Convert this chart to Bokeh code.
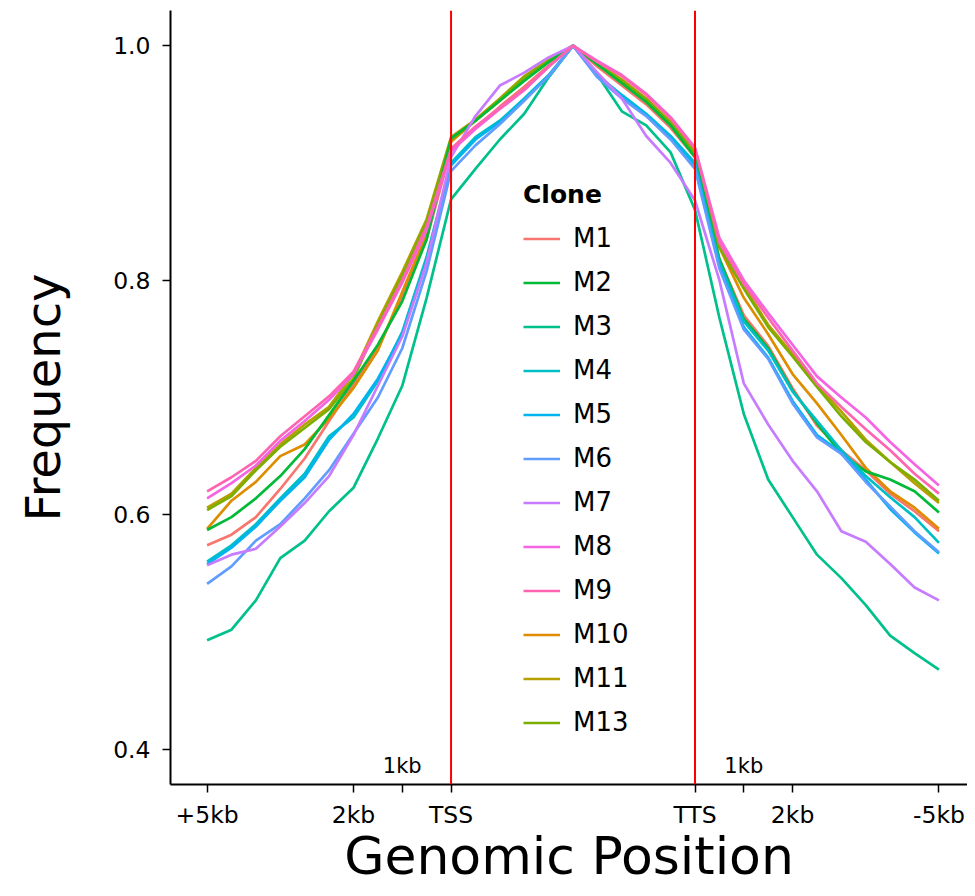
from bokeh.plotting import figure
from bokeh.models import Span, Legend, LegendItem, FixedTicker, PrintfTickFormatter
from bokeh.core.properties import value
from bokeh.embed import file_html
from bokeh.resources import INLINE

# bin positions: 0..5 = +5kb..TSS, 5..10 = gene body (scaled), 10..15 = TTS..-5kb
pos = [0.0, 0.5, 1.0, 1.5, 2.0, 2.5, 3.0, 3.5, 4.0, 4.5, 5.0,
       5.5, 6.0, 6.5, 7.0, 7.5, 8.0, 8.5, 9.0, 9.5, 10.0,
       10.5, 11.0, 11.5, 12.0, 12.5, 13.0, 13.5, 14.0, 14.5, 15.0]

M1 = [0.574, 0.583, 0.598, 0.622, 0.648, 0.680, 0.711, 0.742, 0.786, 0.835, 0.912,
      0.930, 0.948, 0.965, 0.983, 1.000, 0.982, 0.966, 0.950, 0.930, 0.905,
      0.818, 0.770, 0.744, 0.708, 0.676, 0.655, 0.638, 0.618, 0.603, 0.586]
M2 = [0.587, 0.598, 0.614, 0.633, 0.656, 0.685, 0.714, 0.745, 0.782, 0.835, 0.921,
      0.936, 0.953, 0.970, 0.986, 1.000, 0.984, 0.968, 0.952, 0.932, 0.905,
      0.818, 0.767, 0.742, 0.706, 0.678, 0.652, 0.637, 0.630, 0.620, 0.602]
M3 = [0.493, 0.502, 0.527, 0.563, 0.578, 0.603, 0.623, 0.665, 0.710, 0.785, 0.869,
      0.895, 0.920, 0.942, 0.973, 1.000, 0.975, 0.944, 0.932, 0.909, 0.860,
      0.768, 0.686, 0.630, 0.598, 0.566, 0.546, 0.523, 0.497, 0.482, 0.468]
M4 = [0.560, 0.574, 0.592, 0.614, 0.635, 0.667, 0.683, 0.714, 0.756, 0.820, 0.900,
      0.922, 0.936, 0.955, 0.975, 1.000, 0.975, 0.958, 0.942, 0.923, 0.900,
      0.815, 0.765, 0.740, 0.705, 0.680, 0.655, 0.633, 0.615, 0.598, 0.576]
M5 = [0.558, 0.572, 0.590, 0.612, 0.632, 0.664, 0.686, 0.716, 0.754, 0.816, 0.898,
      0.920, 0.935, 0.954, 0.974, 1.000, 0.974, 0.957, 0.941, 0.922, 0.898,
      0.812, 0.760, 0.734, 0.697, 0.668, 0.653, 0.630, 0.605, 0.585, 0.567]
M6 = [0.541, 0.556, 0.578, 0.592, 0.614, 0.638, 0.669, 0.700, 0.742, 0.808, 0.893,
      0.915, 0.933, 0.953, 0.974, 1.000, 0.973, 0.955, 0.940, 0.920, 0.895,
      0.810, 0.758, 0.733, 0.695, 0.666, 0.652, 0.628, 0.607, 0.586, 0.568]
M7 = [0.557, 0.566, 0.571, 0.590, 0.610, 0.633, 0.668, 0.710, 0.752, 0.815, 0.905,
      0.940, 0.966, 0.977, 0.990, 1.000, 0.977, 0.955, 0.923, 0.900, 0.868,
      0.800, 0.712, 0.677, 0.646, 0.620, 0.586, 0.577, 0.558, 0.538, 0.527]
M8 = [0.614, 0.627, 0.642, 0.663, 0.680, 0.698, 0.720, 0.758, 0.798, 0.843, 0.910,
      0.929, 0.946, 0.962, 0.982, 1.000, 0.987, 0.975, 0.959, 0.939, 0.913,
      0.836, 0.800, 0.772, 0.745, 0.718, 0.700, 0.683, 0.662, 0.643, 0.625]
M9 = [0.620, 0.632, 0.646, 0.667, 0.684, 0.701, 0.722, 0.760, 0.800, 0.846, 0.912,
      0.931, 0.947, 0.963, 0.982, 1.000, 0.986, 0.974, 0.958, 0.938, 0.912,
      0.832, 0.797, 0.768, 0.740, 0.712, 0.692, 0.673, 0.655, 0.635, 0.618]
M10 = [0.588, 0.612, 0.628, 0.650, 0.660, 0.682, 0.708, 0.740, 0.790, 0.840, 0.918,
       0.936, 0.953, 0.972, 0.987, 1.000, 0.985, 0.970, 0.953, 0.934, 0.908,
       0.828, 0.785, 0.754, 0.720, 0.695, 0.668, 0.640, 0.620, 0.606, 0.588]
M11 = [0.606, 0.618, 0.640, 0.660, 0.677, 0.692, 0.720, 0.765, 0.807, 0.852, 0.922,
       0.937, 0.955, 0.974, 0.988, 1.000, 0.985, 0.971, 0.955, 0.935, 0.910,
       0.830, 0.795, 0.762, 0.737, 0.711, 0.688, 0.664, 0.645, 0.627, 0.610]
M13 = [0.604, 0.616, 0.638, 0.658, 0.674, 0.690, 0.716, 0.762, 0.804, 0.850, 0.920,
       0.936, 0.954, 0.973, 0.987, 1.000, 0.984, 0.970, 0.954, 0.934, 0.909,
       0.828, 0.793, 0.760, 0.735, 0.709, 0.684, 0.662, 0.645, 0.630, 0.612]

clones = ["M1", "M2", "M3", "M4", "M5", "M6", "M7", "M8", "M9", "M10", "M11", "M13"]
series = {"M1": M1, "M2": M2, "M3": M3, "M4": M4, "M5": M5, "M6": M6, "M7": M7,
          "M8": M8, "M9": M9, "M10": M10, "M11": M11, "M13": M13}
colors = {"M1": "#F8766D", "M10": "#DE8C00", "M11": "#B79F00", "M13": "#7CAE00",
          "M2": "#00BA38", "M3": "#00C08B", "M4": "#00BFC4", "M5": "#00B4F0",
          "M6": "#619CFF", "M7": "#C77CFF", "M8": "#F564E3", "M9": "#FF64B0"}
draw_order = ["M1", "M10", "M11", "M13", "M2", "M3", "M4", "M5", "M6", "M7", "M8", "M9"]

x_ticks = [0, 3, 4, 5, 10, 11, 12, 15]
x_tick_labels = ["+5kb", "2kb", "", "TSS", "TTS", "", "2kb", "-5kb"]
y_ticks = [0.4, 0.6, 0.8, 1.0]
marker_pos = [5, 10]
kb_x = [4, 11]
kb_y = [0.386, 0.386]
kb_text = ["1kb", "1kb"]

FONT = "DejaVu Sans"

p = figure(width=967, height=888, x_range=(-0.75, 15.585), y_range=(0.37, 1.03),
           output_backend="svg", toolbar_location=None,
           min_border_left=170, min_border_right=0, min_border_top=10, min_border_bottom=104)
p.xgrid.visible = False
p.ygrid.visible = False
p.outline_line_color = None
p.background_fill_color = "white"
p.border_fill_color = "white"

renderers = {}
for name in draw_order:
    renderers[name] = p.line(pos, series[name], line_color=colors[name], line_width=2.7)

for loc in marker_pos:
    p.add_layout(Span(location=loc, dimension="height", line_color="#FF0000", line_width=2))

p.text(x=kb_x, y=kb_y, text=kb_text, text_font=value(FONT), text_font_size="21px",
       text_align="center", text_baseline="middle", text_color="black")

for ax in (p.xaxis[0], p.yaxis[0]):
    ax.axis_line_color = "black"
    ax.axis_line_width = 2
    ax.major_tick_line_color = "black"
    ax.major_tick_line_width = 1.5
    ax.major_tick_out = 8
    ax.major_tick_in = 0
    ax.minor_tick_line_color = None
    ax.major_label_text_font = FONT
    ax.major_label_text_font_size = "23.5px"
    ax.major_label_text_color = "black"
    ax.axis_label_text_font = FONT
    ax.axis_label_text_font_style = "normal"
    ax.axis_label_text_color = "black"

p.xaxis.ticker = FixedTicker(ticks=x_ticks)
p.xaxis.major_label_overrides = {t: l for t, l in zip(x_ticks, x_tick_labels)}
p.xaxis.major_label_standoff = 8
p.xaxis.axis_label = "Genomic Position"
p.xaxis.axis_label_text_font_size = "52px"
p.xaxis.axis_label_standoff = -6

p.yaxis.ticker = FixedTicker(ticks=y_ticks)
p.yaxis.formatter = PrintfTickFormatter(format="%.1f")
p.yaxis.major_label_standoff = 12
p.yaxis.axis_label = "Frequency"
p.yaxis.axis_label_text_font_size = "48px"
p.yaxis.axis_label_standoff = 39

legend = Legend(items=[LegendItem(label=c, renderers=[renderers[c]]) for c in clones],
                location=(353, 47), title="Clone")
legend.title_text_font = FONT
legend.title_text_font_size = "25px"
legend.title_text_font_style = "bold"
legend.title_text_color = "black"
legend.title_standoff = 14
legend.label_text_font = FONT
legend.label_text_font_size = "26px"
legend.label_text_color = "black"
legend.border_line_color = None
legend.background_fill_alpha = 0
legend.padding = 0
legend.margin = 0
legend.spacing = 14
legend.glyph_width = 37
legend.glyph_height = 29
legend.label_height = 29
legend.label_standoff = 13
p.add_layout(legend)

open("out.html", "w").write(file_html(p, INLINE))
